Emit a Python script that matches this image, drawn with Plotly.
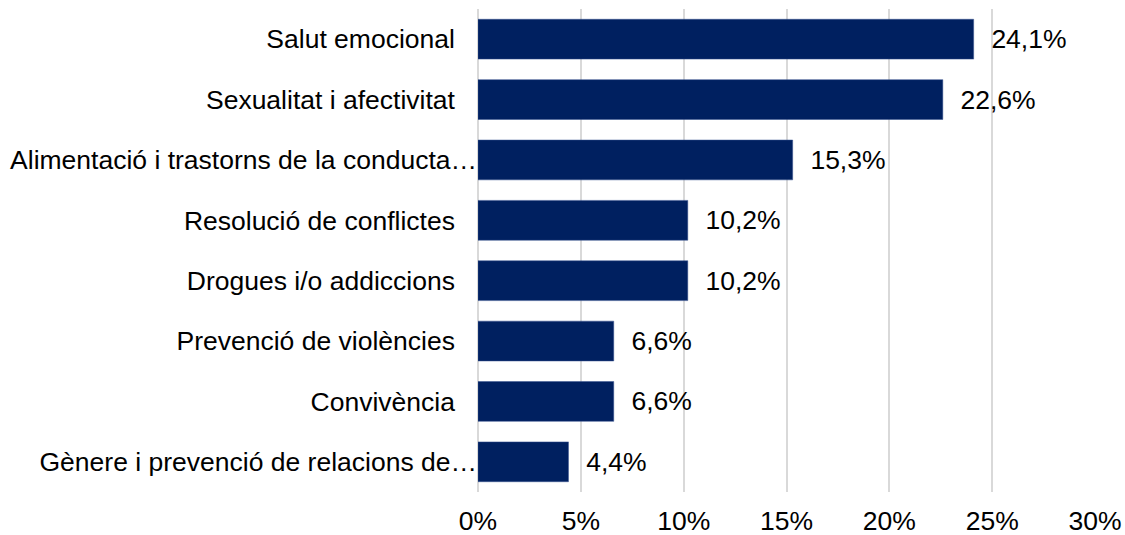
import plotly.graph_objs as go

categories = [
    "Salut emocional",
    "Sexualitat i afectivitat",
    "Alimentació i trastorns de la conducta…",
    "Resolució de conflictes",
    "Drogues i/o addiccions",
    "Prevenció de violències",
    "Convivència",
    "Gènere i prevenció de relacions de…",
]
values = [24.1, 22.6, 15.3, 10.2, 10.2, 6.6, 6.6, 4.4]

# labels that were cut off sit right against the bars, the others have a gap
nbsp = "\u00a0"
tick_text = [c if c.endswith("…") else c + nbsp * 3 for c in categories]

fig = go.Figure()

fig.add_trace(go.Bar(
    x=values,
    y=categories,
    orientation="h",
    marker=dict(color="#002060", line=dict(color="#3a5590", width=0.5)),
    text=[nbsp * 2 + f"{v:.1f}".replace(".", ",") + "%" for v in values],
    textposition="outside",
    textfont=dict(size=26.5, color="#000000"),
    cliponaxis=False,
))

fig.update_layout(
    width=1125,
    height=535,
    template="plotly_white",
    plot_bgcolor="white",
    paper_bgcolor="white",
    font=dict(family="Liberation Sans, Arial, sans-serif", size=26.5, color="#000000"),
    margin=dict(l=478, r=30, t=9, b=43),
    bargap=0.34,
    showlegend=False,
    xaxis=dict(
        range=[0, 30],
        dtick=5,
        ticksuffix="%",
        showgrid=True,
        gridcolor="#d9d9d9",
        gridwidth=2,
        zeroline=True,
        zerolinecolor="#d9d9d9",
        zerolinewidth=2,
        showline=False,
        ticks="outside",
        ticklen=5,
        tickcolor="rgba(0,0,0,0)",
        automargin=False,
    ),
    yaxis=dict(
        autorange="reversed",
        tickmode="array",
        tickvals=categories,
        ticktext=tick_text,
        showgrid=False,
        zeroline=False,
        showline=False,
        ticks="",
        automargin=False,
    ),
)

# drop the browser's default body margin so the figure sits at the page corner
fig.write_html("out.html", config={"displayModeBar": False},
               post_script="document.body.style.margin='0';")
